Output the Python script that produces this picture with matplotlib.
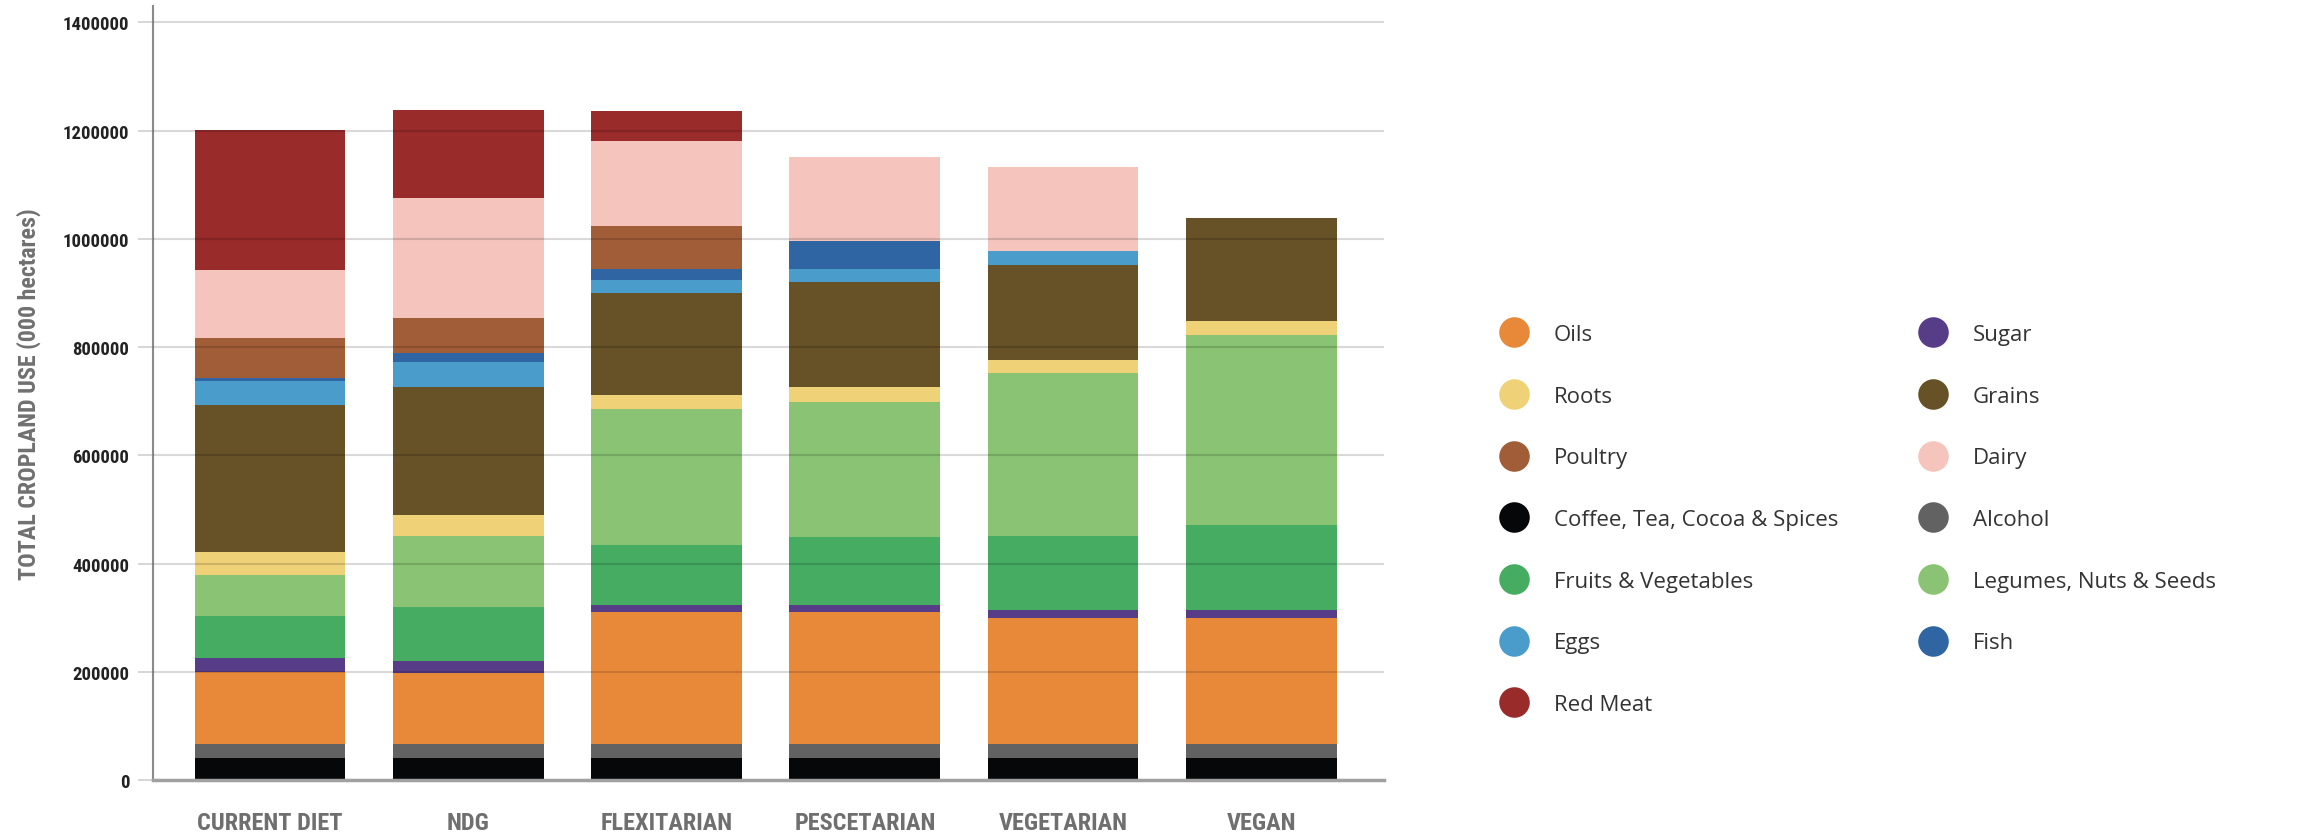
import matplotlib
matplotlib.use("Agg")
import matplotlib.pyplot as plt
from matplotlib import font_manager
from matplotlib.lines import Line2D
import numpy as np

diets = ["CURRENT DIET", "NDG", "FLEXITARIAN", "PESCETARIAN", "VEGETARIAN", "VEGAN"]

# cropland use by food group (000 hectares), stacked bottom to top
coffee   = [40000, 40000, 40000, 40000, 40000, 40000]
alcohol  = [27000, 27000, 27000, 27000, 27000, 27000]
oils     = [132000, 131000, 243000, 243000, 232000, 232000]
sugar    = [26000, 21000, 13500, 13500, 15500, 15500]
fruitveg = [78000, 100000, 111000, 125000, 137000, 157000]
legumes  = [75000, 132000, 251000, 249000, 300000, 351000]
roots    = [42500, 39000, 26500, 28000, 24500, 26000]
grains   = [272000, 236000, 187000, 194500, 175500, 190000]
eggs     = [44500, 47000, 25500, 24500, 25000, 0]
fish     = [6000, 16500, 20500, 51000, 0, 0]
poultry  = [73000, 64000, 78500, 0, 0, 0]
dairy    = [125500, 222000, 158000, 155500, 156000, 0]
redmeat  = [260000, 163000, 54500, 0, 0, 0]

stack = [
    ("Coffee, Tea, Cocoa & Spices", coffee, "#050709"),
    ("Alcohol", alcohol, "#626262"),
    ("Oils", oils, "#E8893A"),
    ("Sugar", sugar, "#573C87"),
    ("Fruits & Vegetables", fruitveg, "#45AC62"),
    ("Legumes, Nuts & Seeds", legumes, "#89C373"),
    ("Roots", roots, "#EFD277"),
    ("Grains", grains, "#665226"),
    ("Eggs", eggs, "#4A9CCB"),
    ("Fish", fish, "#2F65A3"),
    ("Poultry", poultry, "#A15D37"),
    ("Dairy", dairy, "#F5C5BD"),
    ("Red Meat", redmeat, "#992B2A"),
]
colors = {name: c for name, _, c in stack}

legend_order = ["Oils", "Roots", "Poultry", "Coffee, Tea, Cocoa & Spices",
                "Fruits & Vegetables", "Eggs", "Red Meat",
                "Sugar", "Grains", "Dairy", "Alcohol",
                "Legumes, Nuts & Seeds", "Fish"]

# prefer a narrow face for the axis text if one is around
installed = {f.name for f in font_manager.fontManager.ttflist}
narrow = "DejaVu Sans"
for cand in ["Roboto Condensed", "Liberation Sans Narrow", "Open Sans Condensed"]:
    if cand in installed:
        narrow = cand
        break

fig = plt.figure(figsize=(23.23, 8.37), dpi=100)
ax = fig.add_axes([0.0659, 0.0669, 0.5300, 0.9247])

x = np.arange(len(diets))
bottom = np.zeros(len(diets))
for name, vals, col in stack:
    vals = np.array(vals, dtype=float)
    ax.bar(x, vals, width=0.76, bottom=bottom, color=col, linewidth=0, zorder=1)
    bottom += vals

# grid drawn over the bars
for yv in range(200000, 1400001, 200000):
    ax.axhline(yv, color="black", alpha=0.15, linewidth=1.5, zorder=3)

ax.set_xlim(-0.59, 5.62)
ax.set_ylim(0, 1430000)
ax.set_yticks(range(0, 1400001, 200000))
ax.set_yticklabels([str(v) for v in range(0, 1400001, 200000)],
                   family=narrow, fontweight="bold", fontsize=13.5, color="#222222")
ax.tick_params(axis="y", length=11, width=1.2, color="#d0d0d0", pad=6)
ax.set_xticks(x)
ax.set_xticklabels(diets, family=narrow, fontweight="bold", fontsize=17.5, color="#6f6f6f")
ax.tick_params(axis="x", length=0, pad=22)

for s in ["top", "right"]:
    ax.spines[s].set_visible(False)
ax.spines["left"].set_color("#8a8a8a")
ax.spines["left"].set_linewidth(1.5)
ax.spines["bottom"].set_color("#a0a0a0")
ax.spines["bottom"].set_linewidth(2.5)

ax.set_ylabel("TOTAL CROPLAND USE (000 hectares)", family=narrow, fontweight="bold",
              fontsize=17.3, color="#707070", labelpad=16)

handles = [Line2D([], [], linestyle="none", marker="o", markersize=22,
                  markerfacecolor=colors[n], markeredgewidth=0) for n in legend_order]
fig.legend(handles, legend_order, ncol=2, loc="upper left",
           bbox_to_anchor=(0.642, 0.625), frameon=False,
           prop={"family": ["Open Sans", "DejaVu Sans"], "size": 16},
           labelcolor="#333333", handlelength=1.0, handletextpad=1.3,
           labelspacing=1.83, columnspacing=3.77, borderpad=0)

fig.savefig("out.png", dpi=100)
